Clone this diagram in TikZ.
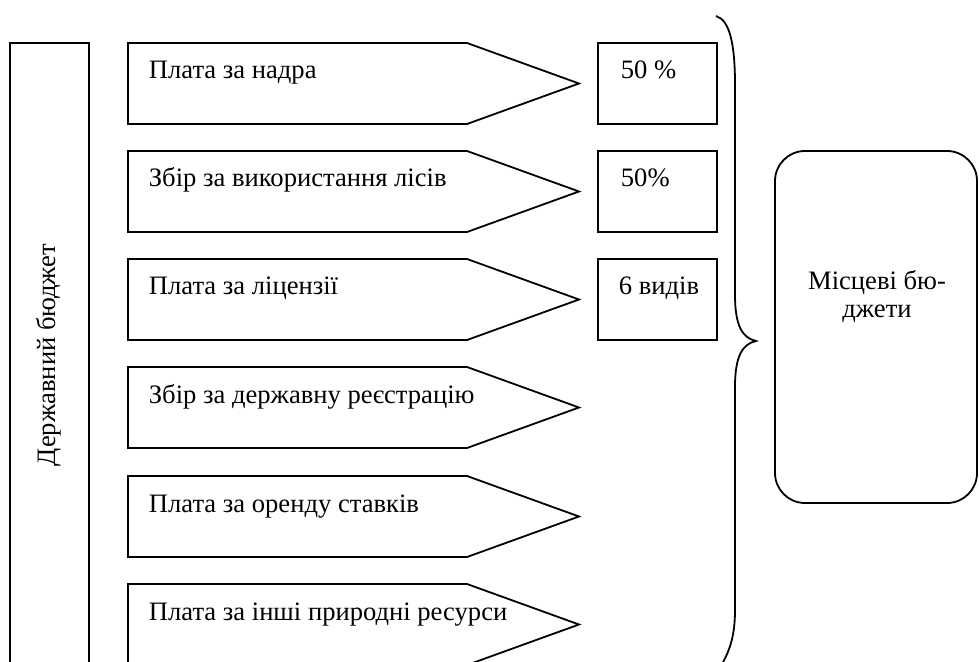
\documentclass[tikz,border=0pt]{standalone}
\usepackage{fontspec}
\setmainfont{Liberation Serif}
\usepackage{tikz}

\tikzset{
  txt/.style={anchor=base west,inner sep=0pt},
  share/.style={draw},
}

\begin{document}
\begin{tikzpicture}[x=0.5pt,y=-0.5pt,line width=0.9pt,line join=miter,
  font=\fontsize{13.3}{14}\selectfont]
\useasboundingbox (0,0) rectangle (979,662);
\clip (0,0) rectangle (979,662);
% state budget column
\draw (10,43) rectangle (89,720);
\node[rotate=90] (derzh) at (49,355) {Державний бюджет};
% payments
\foreach \t/\lab [count=\i] in {43/Плата за надра,151/Збір за використання лісів,259/Плата за ліцензії,367/Збір за державну реєстрацію,476/Плата за оренду ставків,584/Плата за інші природні ресурси}
{
  \draw (128,\t) -- (467,\t) -- (579,\t+40.5) -- (467,\t+81) -- (128,\t+81) -- cycle;
  \node[txt] (pay\i) at (148,\t+36) {\lab};
}
% shares
\draw (598,43) rectangle (717,124);
\node[txt] (share1) at (620,79) {50 \%};
\draw (598,151) rectangle (717,232);
\node[txt] (share2) at (620,187) {50\%};
\draw (598,259) rectangle (717,340);
\node[txt] (share3) at (618,295) {6 видів};
% brace
\draw (716,16) .. controls (730,20) and (735,45) .. (735,85)
  -- (735,295) .. controls (735,325) and (742,338) .. (756,341)
  .. controls (742,344) and (735,357) .. (735,387)
  -- (735,610) .. controls (735,635) and (730,650) .. (722,664);
% local budgets
\draw[rounded corners=15pt] (775,151) rectangle (977,503);
\node[align=center] (local) at (877,297) {Місцеві бю-\\джети};
\end{tikzpicture}
\end{document}
